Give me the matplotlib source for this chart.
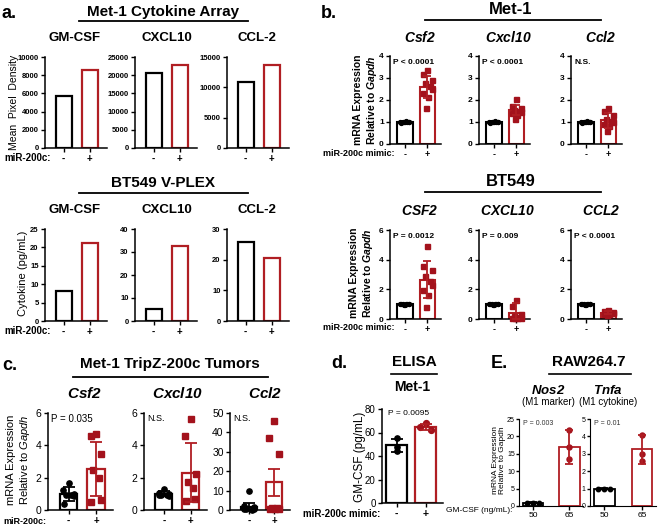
import numpy as np
import matplotlib.pyplot as plt
from matplotlib.lines import Line2D

plt.rcParams['font.family'] = ['Liberation Sans', 'DejaVu Sans']
plt.rcParams['mathtext.fontset'] = 'custom'
plt.rcParams['mathtext.it'] = 'Liberation Sans:italic'
plt.rcParams['mathtext.bf'] = 'Liberation Sans:bold'
plt.rcParams['mathtext.bfit'] = 'Liberation Sans:bold:italic'

RED = '#B01E23'
MRED = '#A3121C'

# ---------------- data ----------------
# a. cytokine array (Met-1) and V-PLEX (BT549)
a_names = ['GM-CSF', 'CXCL10', 'CCL-2']
array_ctrl = [5700, 20600, 10800]
array_mir = [8600, 22700, 13700]
array_ymax = [10000, 25000, 15000]
array_step = [2000, 5000, 5000]
vplex_ctrl = [8.1, 5.3, 25.7]
vplex_mir = [21.3, 32.8, 20.6]
vplex_ymax = [25, 40, 30]
vplex_step = [5, 10, 10]

# b. qPCR, Met-1 and BT549 (9 replicates)
met1_genes = ['Csf2', 'Cxcl10', 'Ccl2']
met1_p = ['P < 0.0001', 'P < 0.0001', 'N.S.']
met1_ctrl_pts = [0.98, 1.0, 1.02, 0.99, 1.01, 1.0, 0.97, 1.03, 1.0]
met1_mir_pts = [
    [3.38, 3.17, 2.93, 2.78, 2.63, 2.48, 2.30, 2.15, 1.62],
    [2.05, 1.72, 1.62, 1.56, 1.50, 1.46, 1.40, 1.30, 1.15],
    [1.65, 1.50, 1.30, 1.15, 1.05, 0.98, 0.90, 0.80, 0.60],
]
met1_mir_mean = [2.6, 1.55, 1.08]
met1_mir_err = [0.5, 0.23, 0.33]

bt_genes = ['CSF2', 'CXCL10', 'CCL2']
bt_p = ['P = 0.0012', 'P = 0.009', 'P < 0.0001']
bt_ctrl_pts = [0.97, 1.0, 1.03, 0.99, 1.01, 0.98, 1.02, 1.0, 0.96]
bt_mir_pts = [
    [4.95, 3.55, 3.30, 2.90, 2.55, 2.30, 1.95, 1.60, 0.80],
    [1.30, 0.85, 0.35, 0.20, 0.12, 0.10, 0.05, 0.05, 0.08],
    [0.58, 0.52, 0.48, 0.45, 0.42, 0.40, 0.36, 0.32, 0.28],
]
bt_mir_mean = [2.65, 0.38, 0.43]
bt_mir_err = [1.25, 0.68, 0.1]

# c. Met-1 TripZ-200c tumors
tum_genes = ['Csf2', 'Cxcl10', 'Ccl2']
tum_p = ['P = 0.035', 'N.S.', 'N.S.']
tum_ctrl_pts = [
    [1.7, 1.25, 1.0, 0.95, 0.9, 0.85, 0.4],
    [1.3, 1.05, 1.0, 0.95, 0.9, 0.85, 0.95],
    [10.0, 2.0, 1.5, 0.5, 0.2, 0.3, 0.4],
]
tum_ctrl_mean = [1.0, 1.0, 1.6]
tum_ctrl_err = [0.42, 0.15, 1.9]
tum_mir_pts = [
    [4.7, 4.55, 3.45, 2.5, 2.0, 0.6, 0.5],
    [5.6, 4.55, 2.25, 1.75, 1.35, 0.7, 0.55],
    [46.0, 37.0, 29.0, 1.0, 0.8, 0.6, 0.5, 0.3],
]
tum_mir_mean = [2.55, 2.3, 14.3]
tum_mir_err = [1.68, 1.83, 7.0]
tum_ymax = [6, 6, 50]
tum_step = [2, 2, 10]

# d. ELISA
elisa_ctrl_pts = [55, 47.5, 44]
elisa_mir_pts = [68, 65, 62.5]
elisa_mean = [49, 65]
elisa_err = [5.5, 2.5]

# E. RAW264.7
raw_genes = ['Nos2', 'Tnfa']
raw_sub = ['(M1 marker)', '(M1 cytokine)']
raw_p = ['P = 0.003', 'P = 0.01']
raw_ctrl_pts = [[1.0, 1.0, 1.0], [1.0, 1.0, 1.0]]
raw_mir_pts = [[21.8, 17.0, 13.5], [4.1, 3.0, 2.6]]
raw_mir_mean = [17.0, 3.25]
raw_mir_err = [4.8, 0.85]
raw_ymax = [25, 5]
raw_step = [5, 1]
raw_ticks = ['50', '65']

# ---------------- layout helpers ----------------
W, H = 658, 526
fig = plt.figure(figsize=(W / 100, H / 100), dpi=100)


def px_axes(x0, x1, ytop, ybot):
    return fig.add_axes([x0 / W, 1 - ybot / H, (x1 - x0) / W, (ybot - ytop) / H])


def ftext(x, y, s, **kw):
    kw.setdefault('va', 'center')
    fig.text(x / W, 1 - y / H, s, **kw)


def hline(x0, x1, y, lw=1.3):
    fig.add_artist(Line2D([x0 / W, x1 / W], [1 - y / H, 1 - y / H], color='black', lw=lw))


def style(ax, ymax, step, xlim, fs, ticklabels=('-', '+'), xfs=None, bold=True):
    ax.set_xlim(*xlim)
    ax.set_ylim(0, ymax)
    ax.set_yticks(np.arange(0, ymax + step / 2, step))
    ax.set_xticks([0, 1])
    ax.set_xticklabels(ticklabels, fontsize=xfs or fs, fontweight='bold' if bold else 'normal')
    for lab in ax.get_yticklabels():
        lab.set_fontsize(fs)
        lab.set_fontweight('bold' if bold else 'normal')
    ax.spines['top'].set_visible(False)
    ax.spines['right'].set_visible(False)
    ax.spines['left'].set_linewidth(1.1)
    ax.spines['bottom'].set_linewidth(1.1)
    ax.tick_params(length=3, width=1, pad=1.5)


def bars(ax, vals, width, lw=1.6):
    ax.bar([0, 1], vals, width=width, color='white', edgecolor=['black', RED], linewidth=lw, zorder=2)


# horizontal scatter pattern for replicate points (beeswarm-like)
SWARM = np.array([0.0, -1.0, 1.0, -0.5, 0.5, 0.9, -0.9, 0.2, -0.3, 0.6])


def dots(ax, x, pts, color, marker, ms, w):
    xs = x + SWARM[:len(pts)] * w
    ax.plot(xs, pts, ls='none', marker=marker, ms=ms, color=color, zorder=4, clip_on=False)


def errbar(ax, x, mean, err, color, cap=3):
    ax.errorbar([x], [mean], yerr=[[min(err, mean)], [err]], fmt='none', ecolor=color,
                elinewidth=1.3, capsize=cap, capthick=1.3, zorder=5)


# ---------------- a. ----------------
ftext(2, 14, 'a.', fontsize=13, fontweight='bold', ha='left')
ftext(163, 12, 'Met-1 Cytokine Array', fontsize=11, fontweight='bold', ha='center')
hline(79, 248, 21)
a_x = [45, 135, 227]
a_c = [75, 167, 257]
for i in range(3):
    ax = px_axes(a_x[i], a_x[i] + 62, 57, 148)
    bars(ax, [array_ctrl[i], array_mir[i]], 0.62)
    style(ax, array_ymax[i], array_step[i], (-0.72, 1.67), 5.5, xfs=7)
    ftext(a_c[i], 38, a_names[i], fontsize=9.5, fontweight='bold', ha='center')
ftext(4, 158, 'miR-200c:', fontsize=7, fontweight='bold', ha='left')
ftext(14, 102, 'Mean  Pixel  Density', fontsize=7.5, rotation=90, ha='center')

ftext(163, 183, 'BT549 V-PLEX', fontsize=11, fontweight='bold', ha='center')
hline(79, 248, 193)
for i in range(3):
    ax = px_axes(a_x[i], a_x[i] + 62, 229, 321)
    bars(ax, [vplex_ctrl[i], vplex_mir[i]], 0.62)
    style(ax, vplex_ymax[i], vplex_step[i], (-0.72, 1.67), 5.5, xfs=7)
    ftext(a_c[i], 210, a_names[i], fontsize=9.5, fontweight='bold', ha='center')
ftext(4, 331, 'miR-200c:', fontsize=7, fontweight='bold', ha='left')
ftext(23, 273, 'Cytokine (pg/mL)', fontsize=8, rotation=90, ha='center')

# ---------------- b. ----------------
ftext(321, 14, 'b.', fontsize=13, fontweight='bold', ha='left')
b_x = [390, 479, 571]
b_c = [420, 508, 601]


def qpcr_row(genes, pvals, ctrl_pts, mir_pts, mir_mean, mir_err, ymax, step, ytop, ybot, ysub):
    for i in range(3):
        ax = px_axes(b_x[i], b_x[i] + 51, ytop, ybot)
        bars(ax, [1.0, mir_mean[i]], 0.7, lw=1.5)
        dots(ax, 0, ctrl_pts, 'black', 'o', 2.8, 0.2)
        dots(ax, 1, mir_pts[i], MRED, 's', 3.6, 0.2)
        errbar(ax, 0, 1.0, 0.04, 'black')
        errbar(ax, 1, mir_mean[i], mir_err[i], RED)
        style(ax, ymax, step, (-0.66, 1.6), 6, xfs=6.5)
        ax.text(0.06, 0.97, pvals[i], transform=ax.transAxes, fontsize=6, fontweight='bold',
                va='top', ha='left')
        ftext(b_c[i], ysub, r'$\mathbfit{' + genes[i] + '}$', fontsize=10, ha='center')


ftext(511, 9, 'Met-1', fontsize=12, fontweight='bold', ha='center')
hline(425, 601, 20)
qpcr_row(met1_genes, met1_p, met1_ctrl_pts, met1_mir_pts, met1_mir_mean, met1_mir_err,
         4, 1, 56, 144, 37)
ftext(394, 153, 'miR-200c mimic:', fontsize=6.5, fontweight='bold', ha='right')
ftext(366, 100, 'mRNA Expression\n' + r'Relative to $\mathbfit{Gapdh}$', fontsize=7.5,
      fontweight='bold', rotation=90, ha='center', linespacing=1.2)

ftext(511, 182, 'BT549', fontsize=12, fontweight='bold', ha='center')
hline(425, 601, 192)
qpcr_row(bt_genes, bt_p, bt_ctrl_pts, bt_mir_pts, bt_mir_mean, bt_mir_err,
         6, 2, 230, 319, 211)
ftext(394, 327, 'miR-200c mimic:', fontsize=6.5, fontweight='bold', ha='right')
ftext(362, 273, 'mRNA Expression\n' + r'Relative to $\mathbfit{Gapdh}$', fontsize=7.5,
      fontweight='bold', rotation=90, ha='center', linespacing=1.2)

# ---------------- c. ----------------
ftext(2, 366, 'c.', fontsize=13, fontweight='bold', ha='left')
ftext(170, 364, 'Met-1 TripZ-200c Tumors', fontsize=11, fontweight='bold', ha='center')
hline(73, 268, 377)
c_x = [48, 144, 230]
c_w = [65, 63, 60]
c_c = [84, 178, 265]
for i in range(3):
    ax = px_axes(c_x[i], c_x[i] + c_w[i], 413, 510)
    bars(ax, [tum_ctrl_mean[i], tum_mir_mean[i]], 0.64, lw=1.6)
    dots(ax, 0, tum_ctrl_pts[i], 'black', 'o', 3.8, 0.2)
    dots(ax, 1, tum_mir_pts[i], MRED, 's', 4.2, 0.2)
    errbar(ax, 0, tum_ctrl_mean[i], tum_ctrl_err[i], 'black', cap=4)
    errbar(ax, 1, tum_mir_mean[i], tum_mir_err[i], RED, cap=4)
    style(ax, tum_ymax[i], tum_step[i], (-0.75, 1.62), 7.5, xfs=7)
    for lab in ax.get_yticklabels():
        lab.set_fontweight('normal')
    ax.tick_params(axis='x', pad=1)
    ax.text(0.05, 0.99, tum_p[i], transform=ax.transAxes, fontsize=6.5 if i else 7,
            va='top', ha='left')
    ftext(c_c[i], 393, r'$\mathbfit{' + tum_genes[i] + '}$', fontsize=11, ha='center')
ftext(3, 521, 'miR-200c:', fontsize=6.5, fontweight='bold', ha='left')
ftext(19, 460, 'mRNA Expression\n' + r'Relative to $\mathit{Gapdh}$', fontsize=8,
      rotation=90, ha='center', linespacing=1.15)

# ---------------- d. ----------------
ftext(331, 364, 'd.', fontsize=13, fontweight='bold', ha='left')
ftext(414, 362, 'ELISA', fontsize=11, fontweight='bold', ha='center')
hline(391, 437, 374, lw=1.2)
ftext(412, 387, 'Met-1', fontsize=10, fontweight='bold', ha='center')
ax = px_axes(382, 443, 409, 503)
bars(ax, elisa_mean, 0.7, lw=1.6)
dots(ax, 0, elisa_ctrl_pts, 'black', 'o', 3.8, 0.0)
dots(ax, 1, elisa_mir_pts, MRED, 'o', 4.2, 0.18)
errbar(ax, 0, elisa_mean[0], elisa_err[0], 'black', cap=4)
errbar(ax, 1, elisa_mean[1], elisa_err[1], RED, cap=4)
style(ax, 80, 20, (-0.5, 1.6), 7, xfs=7.5)
for lab in ax.get_yticklabels():
    lab.set_fontweight('normal')
ax.text(0.1, 0.99, 'P = 0.0095', transform=ax.transAxes, fontsize=6, va='top', ha='left')
ftext(380, 514, 'miR-200c mimic:', fontsize=7, fontweight='bold', ha='right')
ftext(360, 457, 'GM-CSF (pg/mL)', fontsize=8.5, rotation=90, ha='center')

# ---------------- E. ----------------
ftext(491, 364, 'E.', fontsize=13, fontweight='bold', ha='left')
ftext(589, 362, 'RAW264.7', fontsize=11, fontweight='bold', ha='center')
hline(549, 631, 374, lw=1.2)
e_x = [519, 590]
e_w = [64, 66]
e_c = [548, 608]
for i in range(2):
    ax = px_axes(e_x[i], e_x[i] + e_w[i], 419, 506)
    bars(ax, [1.0, raw_mir_mean[i]], 0.55, lw=1.3)
    dots(ax, 0, raw_ctrl_pts[i], 'black', 'o', 3.2, 0.16)
    dots(ax, 1, raw_mir_pts[i], MRED, 'o', 3.6, 0.0)
    errbar(ax, 0, 1.0, 0.02, 'black', cap=3)
    errbar(ax, 1, raw_mir_mean[i], raw_mir_err[i], RED, cap=3)
    style(ax, raw_ymax[i], raw_step[i], (-0.38, 1.37), 5, ticklabels=raw_ticks, xfs=6,
          bold=False)
    ax.tick_params(axis='y', length=2, pad=1)
    ax.spines['left'].set_linewidth(0.8)
    ax.spines['bottom'].set_linewidth(0.8)
    ax.text(0.06, 0.99, raw_p[i], transform=ax.transAxes, fontsize=5, va='top', ha='left',
            color='#333333')
    ftext(e_c[i], 390, r'$\mathbfit{' + raw_genes[i] + '}$', fontsize=9.5, ha='center')
    ftext(e_c[i], 402, raw_sub[i], fontsize=7, ha='center')
ftext(446, 510, 'GM-CSF (ng/mL):', fontsize=6, ha='left')
ftext(499, 460, 'mRNA Expression\nRelative to Gapdh', fontsize=6, rotation=90,
      ha='center', linespacing=1.1)

fig.savefig('out.png', dpi=100)
